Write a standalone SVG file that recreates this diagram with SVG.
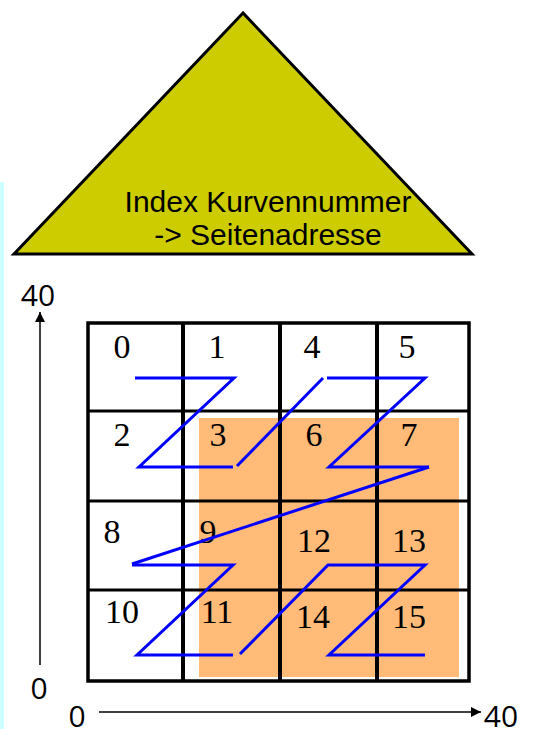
<svg xmlns="http://www.w3.org/2000/svg" width="533" height="729" viewBox="0 0 533 729">
<defs>
<style>
.num{font-family:"Liberation Serif","Times New Roman",serif;font-size:34px;fill:#000;text-anchor:middle}
.ax{font-family:"Open Sans","DejaVu Sans",sans-serif;font-size:30px;fill:#000;text-anchor:middle}
.lbl{font-family:"Liberation Sans",Arial,sans-serif;font-size:30px;fill:#000;text-anchor:middle}
.grid{stroke:#000;fill:none}
.curve{stroke:#0000FF;fill:none;stroke-width:3;stroke-linejoin:miter}
</style>
<marker id="arr" viewBox="0 0 10 10" refX="10" refY="5" markerWidth="10" markerHeight="10" markerUnits="userSpaceOnUse" orient="auto">
<path d="M0,0 L10,5 L0,10 z" fill="#000"/>
</marker>
</defs>
<rect x="0" y="182" width="4" height="547" fill="#CCFFFF"/>
<g id="index-triangle">
<polygon points="243,13 14,254 472,254" fill="#CCCC00" stroke="#000" stroke-width="3"/>
<text class="lbl" x="268" y="212">Index Kurvennummer</text>
<text class="lbl" x="268" y="245">-&gt; Seitenadresse</text>
</g>
<g id="query-region">
<rect x="199" y="418" width="260" height="259" fill="#FFBB77"/>
</g>
<g id="grid">
<rect class="grid" x="88" y="323" width="381" height="358" stroke-width="3.5"/>
<line class="grid" x1="183" y1="323" x2="183" y2="681" stroke-width="4"/>
<line class="grid" x1="280" y1="323" x2="280" y2="681" stroke-width="4"/>
<line class="grid" x1="377" y1="323" x2="377" y2="681" stroke-width="4"/>
<line class="grid" x1="88" y1="411" x2="469" y2="411" stroke-width="3"/>
<line class="grid" x1="88" y1="501" x2="469" y2="501" stroke-width="3"/>
<line class="grid" x1="88" y1="590" x2="469" y2="590" stroke-width="3"/>
</g>
<g id="cell-0"><text class="num" x="122" y="358">0</text></g>
<g id="cell-1"><text class="num" x="217" y="358">1</text></g>
<g id="cell-4"><text class="num" x="312" y="358">4</text></g>
<g id="cell-5"><text class="num" x="407" y="358">5</text></g>
<g id="cell-2"><text class="num" x="122" y="446">2</text></g>
<g id="cell-3"><text class="num" x="218" y="446">3</text></g>
<g id="cell-6"><text class="num" x="314" y="446">6</text></g>
<g id="cell-7"><text class="num" x="409" y="446">7</text></g>
<g id="cell-8"><text class="num" x="112" y="543">8</text></g>
<g id="cell-9"><text class="num" x="208" y="543">9</text></g>
<g id="cell-12"><text class="num" x="314" y="552">12</text></g>
<g id="cell-13"><text class="num" x="409" y="552">13</text></g>
<g id="cell-10"><text class="num" x="122" y="623">10</text></g>
<g id="cell-11"><text class="num" x="217" y="623">11</text></g>
<g id="cell-14"><text class="num" x="313" y="628">14</text></g>
<g id="cell-15"><text class="num" x="409" y="628">15</text></g>
<g id="connectors">
<path class="curve" d="M135,378 H234 L139,467 H233"/>
<path class="curve" d="M237,466 L323,378"/>
<path class="curve" d="M327,378 H425 L329,467 H429"/>
<path class="curve" d="M429,467 L132,564" stroke-width="5"/>
<path class="curve" d="M132,565 H233 L137,655 H233"/>
<path class="curve" d="M240,654 L328,565 H425 L329,655 H425"/>
</g>
<g id="axes">
<line x1="40" y1="665" x2="40" y2="312" stroke="#000" stroke-width="1.5" marker-end="url(#arr)"/>
<line x1="99" y1="712" x2="481" y2="712" stroke="#000" stroke-width="1.5" marker-end="url(#arr)"/>
<text class="ax" x="38" y="306">40</text>
<text class="ax" x="39" y="699">0</text>
<text class="ax" x="77" y="727" font-size="29">0</text>
<text class="ax" x="501" y="727" font-size="29">40</text>
</g>
</svg>
